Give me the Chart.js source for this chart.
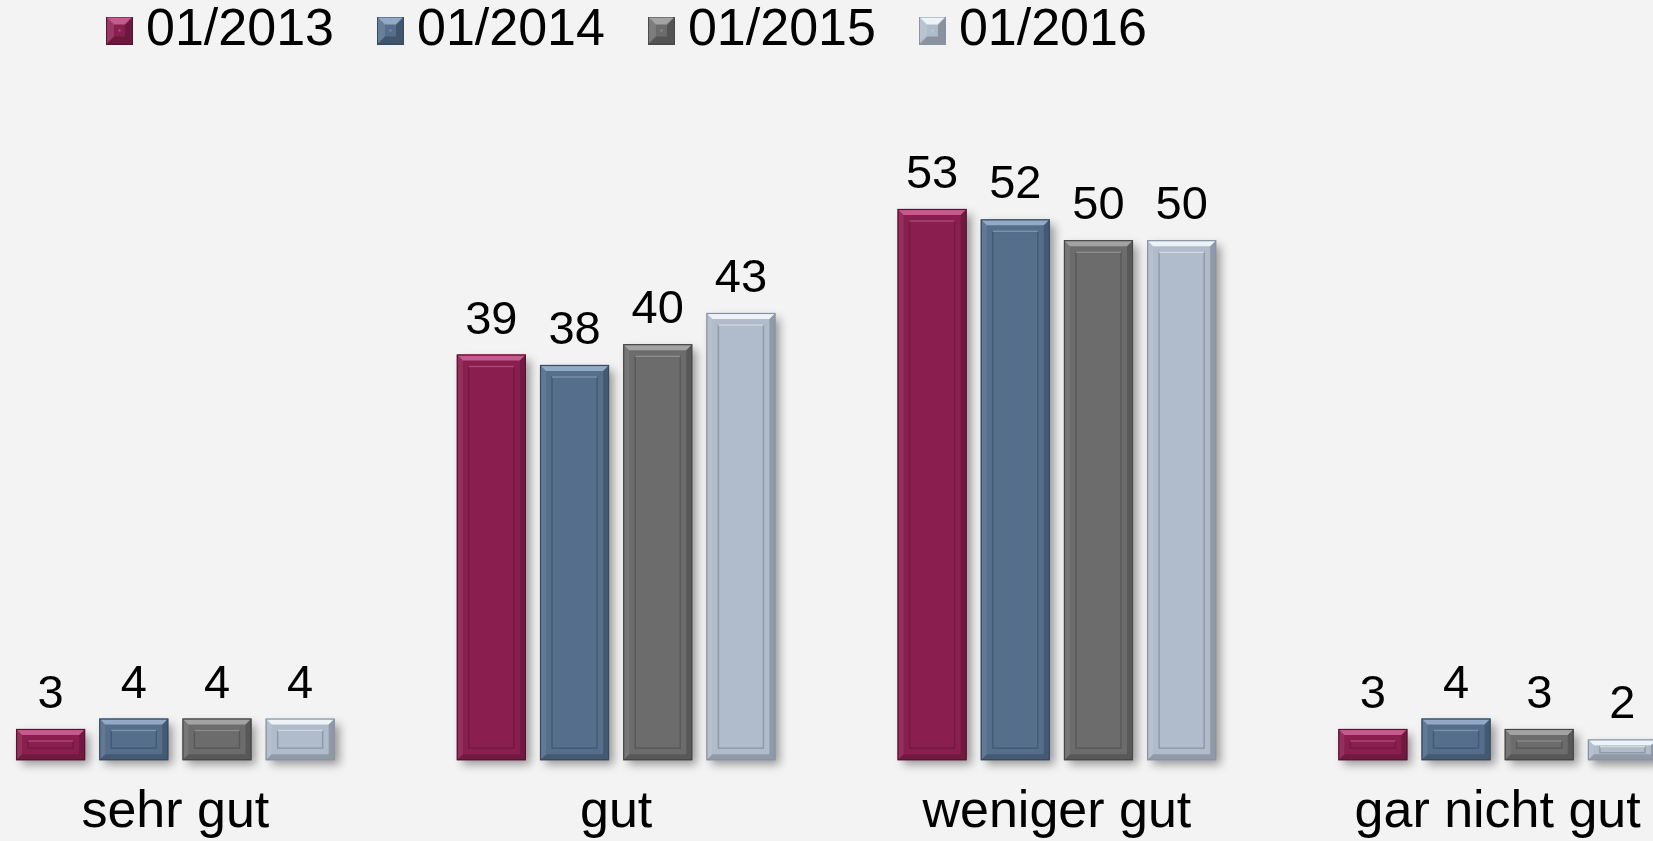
<!DOCTYPE html>
<html>
<head>
<meta charset="utf-8">
<script src="https://cdn.jsdelivr.net/npm/chart.js@4/dist/chart.umd.min.js"></script>
<style>
  html, body { margin: 0; padding: 0; background: #f3f3f3; overflow: hidden; }
  body { width: 1653px; height: 841px; position: relative; }
  #wrap { position: absolute; left: -45px; top: 0; width: 1763px; height: 865px; }
</style>
</head>
<body>
<div id="wrap"><canvas id="barChart"></canvas></div>
<script>
var categories = ['sehr gut', 'gut', 'weniger gut', 'gar nicht gut'];
var seriesNames = ['01/2013', '01/2014', '01/2015', '01/2016'];
var v2013 = [3, 39, 53, 3];
var v2014 = [4, 38, 52, 4];
var v2015 = [4, 40, 50, 3];
var v2016 = [4, 43, 50, 2];

// face, top bevel, dark edge
var looks = [
  { face: '#8a1f4f', light: '#c65a8c', dark: '#5c1233' },
  { face: '#546e8c', light: '#93aac6', dark: '#364a63' },
  { face: '#6c6c6c', light: '#a3a3a3', dark: '#474747' },
  { face: '#b0bccb', light: '#eef3f8', dark: '#8793a3' }
];

var FONT = '"Liberation Sans", Arial, Helvetica, sans-serif';
var PX_PER_UNIT = 10.4;

// little bevelled square used as legend marker
function legendSwatch(look) {
  var c = document.createElement('canvas');
  var w = 27, h = 28, b = 8;
  c.width = w; c.height = h;
  var g = c.getContext('2d');
  g.fillStyle = look.face;
  g.fillRect(0, 0, w, h);
  g.fillStyle = look.light;
  g.beginPath(); g.moveTo(0, 0); g.lineTo(w, 0); g.lineTo(w - b, b); g.lineTo(b, b); g.closePath(); g.fill();
  g.fillStyle = 'rgba(255,255,255,0.12)';
  g.beginPath(); g.moveTo(0, 0); g.lineTo(b, b); g.lineTo(b, h - b); g.lineTo(0, h); g.closePath(); g.fill();
  g.fillStyle = 'rgba(0,0,0,0.22)';
  g.beginPath(); g.moveTo(w, 0); g.lineTo(w, h); g.lineTo(w - b, h - b); g.lineTo(w - b, b); g.closePath(); g.fill();
  g.beginPath(); g.moveTo(0, h); g.lineTo(w, h); g.lineTo(w - b, h - b); g.lineTo(b, h - b); g.closePath(); g.fill();
  g.fillStyle = 'rgba(255,255,255,0.25)';
  g.fillRect(w / 2 - 1, h / 2 - 1, 2, 2);
  g.strokeStyle = look.dark;
  g.lineWidth = 1;
  g.strokeRect(0.5, 0.5, w - 1, h - 1);
  return c;
}

// soft shadow under the bars, bevel on top of them, value labels last
var bevelBars = {
  id: 'bevelBars',
  beforeDatasetsDraw: function (chart) {
    var ctx = chart.ctx;
    ctx.save();
    ctx.shadowColor = 'rgba(0,0,0,0.38)';
    ctx.shadowBlur = 9;
    ctx.shadowOffsetX = 5;
    ctx.shadowOffsetY = 5;
  },
  afterDatasetsDraw: function (chart) {
    var ctx = chart.ctx;
    ctx.restore();
    chart.data.datasets.forEach(function (ds, i) {
      var look = looks[i];
      var meta = chart.getDatasetMeta(i);
      meta.data.forEach(function (bar, j) {
        var L = bar.x - bar.width / 2, R = bar.x + bar.width / 2;
        var T = Math.min(bar.y, bar.base), B = Math.max(bar.y, bar.base);
        var h = B - T;
        var b = Math.min(6, h / 2);
        ctx.save();
        // top bevel
        ctx.fillStyle = look.light;
        ctx.beginPath();
        ctx.moveTo(L, T); ctx.lineTo(R, T); ctx.lineTo(R - b, T + b); ctx.lineTo(L + b, T + b);
        ctx.closePath(); ctx.fill();
        // right / bottom bevel darker
        ctx.fillStyle = 'rgba(0,0,0,0.18)';
        ctx.beginPath();
        ctx.moveTo(R, T); ctx.lineTo(R, B); ctx.lineTo(R - b, B - b); ctx.lineTo(R - b, T + b);
        ctx.closePath(); ctx.fill();
        ctx.beginPath();
        ctx.moveTo(L, B); ctx.lineTo(R, B); ctx.lineTo(R - b, B - b); ctx.lineTo(L + b, B - b);
        ctx.closePath(); ctx.fill();
        // left bevel slightly lighter
        ctx.fillStyle = 'rgba(255,255,255,0.08)';
        ctx.beginPath();
        ctx.moveTo(L, T); ctx.lineTo(L, B); ctx.lineTo(L + b, B - b); ctx.lineTo(L + b, T + b);
        ctx.closePath(); ctx.fill();
        // inner panel line
        var ins = Math.min(12, h / 2 - 3);
        if (ins > 3) {
          ctx.lineWidth = 1.5;
          ctx.strokeStyle = 'rgba(0,0,0,0.18)';
          ctx.strokeRect(L + 12, T + ins, R - L - 24, h - 2 * ins);
          ctx.strokeStyle = look.light;
          ctx.globalAlpha = 0.7;
          ctx.beginPath();
          ctx.moveTo(L + 12, T + ins); ctx.lineTo(R - 12, T + ins);
          ctx.stroke();
          ctx.globalAlpha = 1;
        }
        // outline
        ctx.lineWidth = 1.2;
        ctx.strokeStyle = look.dark;
        ctx.strokeRect(L + 0.5, T + 0.5, R - L - 1, h - 1);
        ctx.restore();
      });
    });
    // value labels
    ctx.save();
    ctx.font = '47px ' + FONT;
    ctx.fillStyle = '#000';
    ctx.textAlign = 'center';
    ctx.textBaseline = 'alphabetic';
    chart.data.datasets.forEach(function (ds, i) {
      chart.getDatasetMeta(i).data.forEach(function (bar, j) {
        ctx.fillText(String(ds.data[j]), bar.x, Math.min(bar.y, bar.base) - 21);
      });
    });
    ctx.restore();
  }
};

// push the legend to where the original has it
var legendShift = {
  id: 'legendShift',
  beforeDraw: function (chart) {
    var lg = chart.legend;
    lg.left = 108;
    lg.right = 1763;
    lg.top = -51.5;
  }
};

var seriesData = [v2013, v2014, v2015, v2016];
var swatches = looks.map(legendSwatch);

var chart = new Chart(document.getElementById('barChart'), {
  type: 'bar',
  data: {
    labels: categories,
    datasets: seriesData.map(function (vals, i) {
      return {
        label: seriesNames[i],
        data: vals,
        backgroundColor: looks[i].face,
        borderColor: looks[i].dark,
        borderWidth: 0,
        categoryPercentage: 0.755,
        barPercentage: 0.83,
        clip: false
      };
    })
  },
  options: {
    responsive: true,
    maintainAspectRatio: false,
    animation: false,
    layout: { padding: 0 },
    plugins: {
      legend: {
        position: 'top',
        align: 'start',
        labels: {
          usePointStyle: true,
          boxWidth: 1,
          padding: 56,
          color: '#000',
          font: { family: FONT, size: 52 },
          generateLabels: function (c) {
            return c.data.datasets.map(function (ds, i) {
              return {
                text: ds.label,
                fillStyle: looks[i].face,
                strokeStyle: looks[i].dark,
                pointStyle: swatches[i],
                lineWidth: 0,
                datasetIndex: i,
                hidden: false,
                fontColor: '#000'
              };
            });
          }
        }
      },
      tooltip: { enabled: false },
      title: { display: false }
    },
    scales: {
      x: {
        grid: { display: false, drawTicks: false },
        border: { display: false },
        ticks: {
          color: '#000',
          padding: 22,
          font: { family: FONT, size: 52, lineHeight: 1.17 }
        }
      },
      y: {
        display: false,
        min: 0,
        max: 65
      }
    }
  },
  plugins: [bevelBars, legendShift]
});

// keep the vertical scale at the original's pixels per unit
var area = chart.chartArea;
chart.options.scales.y.max = (area.bottom - area.top) / PX_PER_UNIT;
chart.update();
</script>
</body>
</html>
